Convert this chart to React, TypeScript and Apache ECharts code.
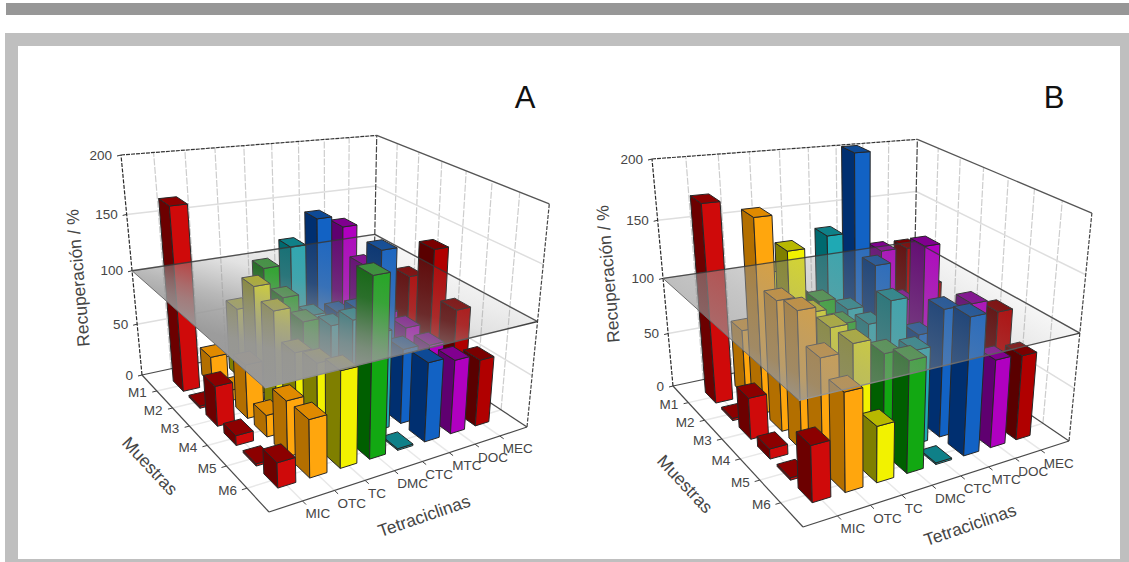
import React, { useEffect, useRef } from "react";
import * as echarts from "echarts";

const tetraciclinas = ["MIC", "OTC", "TC", "DMC", "CTC", "MTC", "DOC", "MEC"];
const muestras = ["M1", "M2", "M3", "M4", "M5", "M6"];
const zTicks = [0, 50, 100, 150, 200];

// Panel A: recovery per sample M1..M6
const aMIC = [168, 2, 37, 9, 2, 22];
const aOTC = [27, 10, 50, 20, 50, 51];
const aTC = [68, 102, 93, 70, 76, 85];
const aDMC = [102, 87, 78, 30, 40, 156];
const aCTC = [118, 65, 69, 88, 90, 1.5];
const aMTC = [141, 63, 79, 145, 70, 73];
const aDOC = [130, 105, 70, 70, 68, 69];
const aMEC = [40, 50, 101, 138, 95, 63];
// Panel B
const bMIC = [175, 2, 37, 9, 2, 48];
const bOTC = [62, 171, 115, 120, 96, 84];
const bTC = [110, 140, 100, 101, 102, 49];
const bDMC = [80, 92, 85, 70, 88, 97];
const bCTC = [135, 80, 80, 114, 85, 1.5];
const bMTC = [205, 116, 60, 79, 115, 122];
const bDOC = [114, 79, 141, 40, 115, 80];
const bMEC = [113, 90, 45, 50, 103, 78];

const bright = ["#cf0a0a", "#ffa60d", "#f2f200", "#12a812", "#1fa9b4", "#1262c4", "#b000c0", "#b00000"];
const dark = ["#6c0000", "#b36f00", "#7f7f00", "#005f00", "#00696f", "#002f70", "#5f0070", "#5a0000"];
const top = ["#8c0000", "#e08a00", "#b8b800", "#2e8f2e", "#0f8088", "#0e4a96", "#80008f", "#7a0000"];

type Pt = [number, number];
const U = 9.15;
const V = 7;

function makeProjection(left: Pt, back: Pt, right: Pt, front: Pt, topLeft: Pt, topRight: Pt) {
  const [x0, y0] = left, [x1, y1] = back, [x2, y2] = right, [x3, y3] = front;
  const dx1 = x1 - x2, dx2 = x3 - x2, sx = x0 - x1 + x2 - x3;
  const dy1 = y1 - y2, dy2 = y3 - y2, sy = y0 - y1 + y2 - y3;
  const den = dx1 * dy2 - dx2 * dy1;
  const g = (sx * dy2 - dx2 * sy) / den;
  const h = (dx1 * sy - sx * dy1) / den;
  const a = x1 - x0 + g * x1, b = x3 - x0 + h * x3;
  const d = y1 - y0 + g * y1, e = y3 - y0 + h * y3;
  // vanishing point of the vertical axis
  const kL = (topLeft[0] - x0) / (topLeft[1] - y0);
  const kR = (topRight[0] - x2) / (topRight[1] - y2);
  const vy = (x2 - x0 + kL * y0 - kR * y2) / (kL - kR);
  const vx = x0 + kL * (vy - y0);
  const t = (topLeft[1] - y0) / (vy - y0);
  const c = t / (1 - t);
  return (u: number, v: number, val: number): Pt => {
    const s = u / U, q = v / V, z = (val / 200) * c;
    const w = g * s + h * q + 1;
    const X = a * s + b * q + x0;
    const Y = d * s + e * q + y0;
    return [(X + z * vx) / (w + z), (Y + z * vy) / (w + z)];
  };
}

const line = (p: Pt, q: Pt, stroke: any, lineWidth = 1, lineDash?: number[]) => ({
  type: "line",
  silent: true,
  shape: { x1: p[0], y1: p[1], x2: q[0], y2: q[1] },
  style: { stroke, lineWidth, lineDash, fill: null },
});
const poly = (points: Pt[], fill: any, stroke: any = "#262626") => ({
  type: "polygon",
  silent: true,
  shape: { points },
  style: { fill, stroke, lineWidth: stroke === "none" ? 0 : 1, lineJoin: "round" },
});

function frameChildren(P: any) {
  const out: any[] = [];
  const floorC = "#e8e8e8", wallH = "#dedede", wallV = "#cdcdcd", edge = "#4a4a4a";
  for (let v = 1; v <= muestras.length; v++) out.push(line(P(0, v, 0), P(U, v, 0), floorC, 1.5));
  for (let u = 1; u <= tetraciclinas.length; u++) out.push(line(P(u, 0, 0), P(u, V, 0), floorC, 1.5));
  for (let u = 1; u <= tetraciclinas.length; u++) out.push(line(P(u, 0, 0), P(u, 0, 200), wallV, 1.2, [7, 1.5]));
  for (let v = 1; v <= muestras.length; v++) out.push(line(P(U, v, 0), P(U, v, 200), wallV, 1.2, [7, 1.5]));
  zTicks.slice(1, -1).forEach((z) => {
    out.push(line(P(0, 0, z), P(U, 0, z), wallH, 1.5));
    out.push(line(P(U, 0, z), P(U, V, z), wallH, 1.5));
  });
  zTicks.forEach((z) => {
    const p = P(0, 0, z);
    out.push(line([p[0] - 4, p[1] + 1], p, "#333", 1));
  });
  muestras.forEach((_, i) => out.push(line(P(-0.15, i + 1, 0), P(0, i + 1, 0), "#444", 1)));
  tetraciclinas.forEach((_, i) => out.push(line(P(i + 1, V, 0), P(i + 1, V + 0.15, 0), "#444", 1)));
  out.push(line(P(0, 0, 0), P(U, 0, 0), edge, 1.2));
  out.push(line(P(0, 0, 0), P(0, V, 0), edge, 1.2));
  out.push(line(P(0, V, 0), P(U, V, 0), edge, 1.2));
  out.push(line(P(U, 0, 0), P(U, V, 0), edge, 1.2));
  out.push(line(P(0, 0, 0), P(0, 0, 200), "#2a2a2a", 1.2, [4, 1.5]));
  out.push(line(P(U, V, 0), P(U, V, 200), "#444", 1.2, [4, 1.5]));
  out.push(line(P(U, 0, 0), P(U, 0, 200), "#444", 1.2, [6, 1.5]));
  out.push(line(P(0, 0, 200), P(U, 0, 200), "#333", 1.2, [4, 1]));
  out.push(line(P(U, 0, 200), P(U, V, 200), "#555", 1.3));
  return out;
}

function barChildren(P: any, u: number, v: number, c: number, to: number) {
  const hu = 0.28, hv = 0.32;
  const l = u - hu, r = u + hu, n = v - hv, f = v + hv;
  return [
    poly([P(l, n, 0), P(l, f, 0), P(l, f, to), P(l, n, to)], dark[c]),
    poly([P(l, f, 0), P(r, f, 0), P(r, f, to), P(l, f, to)], bright[c]),
    poly([P(l, n, to), P(l, f, to), P(r, f, to), P(r, n, to)], top[c]),
  ];
}

function barData(columns: number[][]) {
  const rows: number[][] = [];
  muestras.forEach((_, v) => {
    for (let u = columns.length - 1; u >= 0; u--) rows.push([u + 1, v + 1, columns[u][v], u]);
  });
  return rows;
}

function panelSeries(P: any, columns: number[][], stops: [number, number][], gradFrom: Pt, gradTo: Pt) {
  const data = barData(columns);
  const level = 100;
  const pl = P(0, 0, level), pb = P(U, 0, level), pr = P(U, V, level), pf = P(0, V, level);
  const fill = {
    type: "linear", global: true,
    x: gradFrom[0], y: gradFrom[1], x2: gradTo[0], y2: gradTo[1],
    colorStops: stops.map(([offset, al]) => ({ offset, color: `rgba(152,152,152,${al})` })),
  };
  const frontEdge = {
    type: "linear", global: true, x: pf[0], y: pf[1], x2: pr[0], y2: pr[1],
    colorStops: [{ offset: 0, color: "#9a9a9a" }, { offset: 0.35, color: "#808080" }, { offset: 1, color: "#3e3e3e" }],
  };
  return [
    { type: "custom", coordinateSystem: "none", z: 1, silent: true, data: [[0]],
      renderItem: () => ({ type: "group", children: frameChildren(P) }) },
    { type: "custom", coordinateSystem: "none", z: 2, silent: true, data,
      renderItem: (_: any, api: any) => ({ type: "group",
        children: barChildren(P, api.value(0), api.value(1), api.value(3), api.value(2)) }) },
    { type: "custom", coordinateSystem: "none", z: 3, silent: true, data: [[level]],
      renderItem: () => ({ type: "group", children: [
        poly([pl, pb, pr, pf], fill, "none"),
        line(pl, pb, "rgba(55,55,55,0.85)", 1.3),
        line(pb, pr, "rgba(55,55,55,0.85)", 1.3),
        line(pl, pf, "#6e6e6e", 1),
        line(pf, pr, frontEdge, 1.4),
      ] }) },
  ];
}

function panelTexts(P: any, letter: string, letterAt: Pt, yTitle: Pt, mTitle: Pt, tTitle: Pt) {
  const font = "13.5px 'Liberation Sans', Arial, sans-serif";
  const title = "17.5px 'Liberation Sans', Arial, sans-serif";
  const color = "#454545";
  const txt = (text: string, p: Pt, f: string, align: string, rotation = 0, fill = color) => ({
    type: "text", silent: true, z: 10, x: p[0], y: p[1], rotation,
    style: { text, font: f, fill, align, verticalAlign: "middle" },
  });
  const out: any[] = [];
  zTicks.forEach((z) => {
    const p = P(0, 0, z);
    out.push(txt(String(z), [p[0] - 9, p[1]], font, "right"));
  });
  muestras.forEach((m, i) => {
    const p = P(0, i + 1, 0);
    out.push(txt(m, [p[0] - 10, p[1] + 2], font, "right"));
  });
  tetraciclinas.forEach((t, i) => {
    const p = P(i + 1, V, 0);
    out.push(txt(t, [p[0] + 3, p[1] + 13], font, "left"));
  });
  out.push(txt("Recuperación / %", yTitle, title, "center", Math.PI / 2 + 0.085));
  out.push(txt("Muestras", mTitle, title, "center", (-47 * Math.PI) / 180));
  out.push(txt("Tetraciclinas", tTitle, title, "center", (19 * Math.PI) / 180));
  out.push(txt(letter, letterAt, "31px 'Liberation Sans', Arial, sans-serif", "center", 0, "#111"));
  return out;
}

const projA = makeProjection([142, 375], [373, 325], [527, 427], [269, 512], [121, 155], [550, 197]);
const projB = makeProjection([673, 386], [913, 335], [1069, 441], [803, 527], [652, 159], [1093, 202]);

export default function App() {
  const ref = useRef<HTMLDivElement>(null);
  useEffect(() => {
    const chart = echarts.init(ref.current!, undefined, { renderer: "svg" });
    const rect = (x: number, y: number, width: number, height: number, fill: string) => ({
      type: "rect", silent: true, z: 0, shape: { x, y, width, height }, style: { fill },
    });
    chart.setOption({
      animation: false,
      backgroundColor: "#ffffff",
      graphic: { elements: [
        rect(6, 3, 1123, 12, "#979797"),
        rect(5, 33, 1124, 13, "#bfbfbf"),
        rect(5, 33, 13, 529, "#bfbfbf"),
        rect(1120, 33, 9, 529, "#bfbfbf"),
        rect(5, 559, 1124, 3, "#bfbfbf"),
        ...panelTexts(projA, "A", [525, 97], [78, 278], [150, 466], [424, 516]),
        ...panelTexts(projB, "B", [1054, 97], [608, 274], [685, 484], [970, 525]),
      ] },
      series: [
        ...panelSeries(projA, [aMIC, aOTC, aTC, aDMC, aCTC, aMTC, aDOC, aMEC],
          [[0, 0.99], [0.22, 0.96], [0.36, 0.8], [0.43, 0.68], [0.62, 0.28], [0.75, 0.18], [1, 0.03]], [300, 400], [350, 220]),
        ...panelSeries(projB, [bMIC, bOTC, bTC, bDMC, bCTC, bMTC, bDOC, bMEC],
          [[0, 0.9], [0.12, 0.66], [0.3, 0.56], [0.6, 0.34], [1, 0.05]], [803, 408], [915, 222]),
      ],
    });
    return () => chart.dispose();
  }, []);
  return <div ref={ref} style={{ position: "fixed", left: 0, top: 0, width: 1129, height: 562 }} />;
}
